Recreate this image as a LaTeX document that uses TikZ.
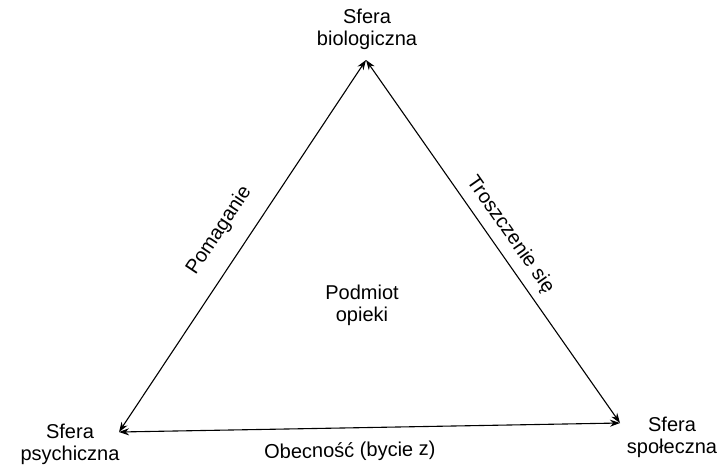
\documentclass[tikz,border=0pt]{standalone}
\usepackage{fontspec}
\setmainfont{Liberation Sans}
\usepackage{tikz}
\usetikzlibrary{arrows.meta, positioning}

\begin{document}
\begin{tikzpicture}[x=1pt, y=-1pt,
    sphere/.style={align=center, inner sep=0pt, font=\fontsize{20}{22}\selectfont},
    edgetext/.style={inner sep=0pt, sloped, font=\fontsize{20}{22}\selectfont},
    link/.style={{Stealth[length=10pt, width=7pt]}-{Stealth[length=10pt, width=7pt]}, line width=1.1pt}]
    \useasboundingbox (0,0) rectangle (722,467);
    % corners of the triangle
    \coordinate (bio) at (366,60);
    \coordinate (psy) at (119,432);
    \coordinate (spo) at (620,423);
    % spheres
    \node[sphere] (biolabel) at (367,29) {Sfera\\biologiczna};
    \node[sphere] (psylabel) at (70,444) {Sfera\\psychiczna};
    \node[sphere] (spolabel) at (672,437) {Sfera\\społeczna};
    \node[sphere] (subject) at (362,305) {Podmiot\\opieki};
    % sides
    \draw[link] (psy) -- node[edgetext, above=18pt, pos=0.5] (help) {Pomaganie} (bio);
    \draw[link] (bio) -- node[edgetext, above=8pt, pos=0.51] (care) {Troszczenie się} (spo);
    \draw[link] (psy) -- node[edgetext, below=14pt, pos=0.46] (presence) {Obecność (bycie z)} (spo);
\end{tikzpicture}
\end{document}
